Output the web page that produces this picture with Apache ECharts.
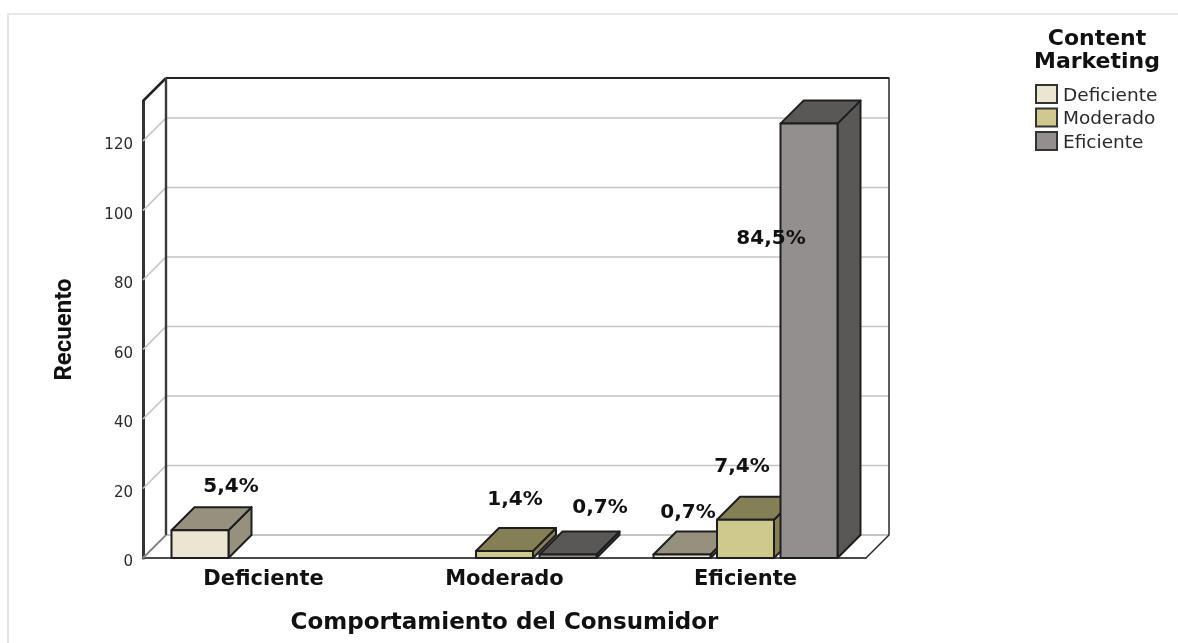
<!DOCTYPE html>
<html>
<head>
<meta charset="utf-8">
<title>Comportamiento del Consumidor</title>
<style>html,body{margin:0;padding:0;background:#fff}#chart{width:1178px;height:643px}</style>
<script src="https://cdn.jsdelivr.net/npm/echarts@6/dist/echarts.min.js"></script>
</head>
<body>
<div id="chart"></div>
<script>
// Counts per consumer-behaviour level, one list per content-marketing level
const categories = ['Deficiente', 'Moderado', 'Eficiente'];
const deficienteCounts = [8, 0, 1];
const moderadoCounts = [0, 2, 11];
const eficienteCounts = [0, 1, 125];
const deficientePct = ['5,4%', '', '0,7%'];
const moderadoPct = ['', '1,4%', '7,4%'];
const eficientePct = ['', '0,7%', '84,5%'];
const yTicks = [0, 20, 40, 60, 80, 100, 120];

const FONT = '"DejaVu Sans", sans-serif';
const DEPTH = 23;        // oblique offset of the back wall, px
const EDGE = '#1e1e1e';
const BAR_RATIO = 0.2365;
const PITCH_RATIO = 0.2635;

// Face colours and per-category label nudges (px from bar centre / front top)
const looks = [
  { name: 'Deficiente', front: '#ebe6d1', shade: '#96917f', counts: deficienteCounts, pct: deficientePct,
    nudge: [[31, -43], null, [6, -41.5]] },
  { name: 'Moderado', front: '#cfc98d', shade: '#857f56', counts: moderadoCounts, pct: moderadoPct,
    nudge: [null, [10.5, -51], [-3.5, -53]] },
  { name: 'Eficiente', front: '#938f8e', shade: '#5a5856', counts: eficienteCounts, pct: eficientePct,
    nudge: [null, [32, -46.5], [-38, 115]] }
];

function poly(points, fill, z2) {
  return { type: 'polygon', z2: z2, shape: { points: points },
    style: { fill: fill, stroke: EDGE, lineWidth: 2, lineJoin: 'round' } };
}

function barSeries(look, index) {
  return {
    type: 'custom',
    name: look.name,
    coordinateSystem: 'cartesian2d',
    itemStyle: { color: look.front, borderColor: '#333', borderWidth: 1.5 },
    data: look.counts.map((v, i) => [i, v]),
    z: 3 + index,
    renderItem(params, api) {
      const cat = api.value(0), val = api.value(1);
      if (!val) return null;
      const band = api.size([1, 0])[0];
      const top = api.coord([cat, val]);
      const base = api.coord([cat, 0]);
      const cx = top[0] + (index - 1) * band * PITCH_RATIO;
      const hw = band * BAR_RATIO / 2;
      const l = cx - hw, r = cx + hw, t = top[1], b = base[1];
      const nudge = look.nudge[cat] || [0, -40];
      return {
        type: 'group',
        children: [
          poly([[r, t], [r + DEPTH, t - DEPTH], [r + DEPTH, b - DEPTH], [r, b]], look.shade, 1),
          poly([[l, t], [l + DEPTH, t - DEPTH], [r + DEPTH, t - DEPTH], [r, t]], look.shade, 1),
          poly([[l, t], [r, t], [r, b], [l, b]], look.front, 2),
          { type: 'text', z2: 200, silent: true,
            x: cx + nudge[0], y: t + nudge[1],
            style: { text: look.pct[cat], font: 'bold 20px ' + FONT, fill: '#111',
              align: 'center', verticalAlign: 'middle' } }
        ]
      };
    }
  };
}

// Back wall gridlines with their slanted stubs on the left side wall
const gridSeries = {
  type: 'custom',
  coordinateSystem: 'cartesian2d',
  silent: true,
  z: 1,
  data: yTicks.map(v => [0, v]),
  renderItem(params, api) {
    const sys = params.coordSys;
    const y = api.coord([0, api.value(1)])[1];
    return {
      type: 'polyline',
      shape: { points: [[sys.x, y], [sys.x + DEPTH, y - DEPTH], [sys.x + sys.width + DEPTH, y - DEPTH]] },
      style: { fill: null, stroke: '#c4c4c4', lineWidth: api.value(1) === 0 ? 2.2 : 1.6 }
    };
  }
};

// Box outline: top edge, back verticals and floor corner
const frameSeries = {
  type: 'custom',
  coordinateSystem: 'cartesian2d',
  silent: true,
  z: 2,
  data: [[0, 0]],
  renderItem(params) {
    const s = params.coordSys;
    const x0 = s.x, x1 = s.x + s.width, yT = s.y, yB = s.y + s.height;
    const line = (pts, stroke, w) => ({ type: 'polyline', shape: { points: pts },
      style: { fill: null, stroke: stroke, lineWidth: w, lineJoin: 'round' } });
    return {
      type: 'group',
      children: [
        line([[x0 + DEPTH, yT - DEPTH], [x1 + DEPTH, yT - DEPTH], [x1 + DEPTH, yB - DEPTH], [x1, yB]], '#2a2a2a', 1.5),
        line([[x0, yT], [x0 + DEPTH, yT - DEPTH]], '#222', 2.5),
        line([[x0 + DEPTH, yT - DEPTH], [x1 + DEPTH, yT - DEPTH]], '#222', 2),
        line([[x0 + DEPTH, yT - DEPTH], [x0 + DEPTH, yB - DEPTH]], '#3a3a3a', 2.4),
        line([[x0, yB], [x0 + DEPTH, yB - DEPTH]], '#777', 1.5)
      ]
    };
  }
};

const chart = echarts.init(document.getElementById('chart'), null, { renderer: 'canvas' });
chart.setOption({
  animation: false,
  backgroundColor: '#fff',
  textStyle: { fontFamily: FONT },
  grid: { left: 143, right: 312, top: 101, bottom: 85, containLabel: false, outerBoundsMode: 'none' },
  title: {
    text: 'Content\nMarketing',
    left: 1097, top: 28, padding: 0, textAlign: 'center',
    textStyle: { fontFamily: FONT, fontWeight: 'bold', fontSize: 22, lineHeight: 23, color: '#111' }
  },
  legend: {
    orient: 'vertical', left: 1035, top: 84, padding: 0,
    itemWidth: 21, itemHeight: 18, itemGap: 2,
    icon: 'rect', selectedMode: false,
    align: 'left',
    formatter: name => '{t|' + name + '}',
    textStyle: {
      fontFamily: FONT, fontSize: 18.5, color: '#2a2a2a',
      rich: { t: { fontFamily: FONT, fontSize: 18.5, color: '#2a2a2a', padding: [4, 0, 0, 1] } }
    },
    data: looks.map(l => l.name)
  },
  xAxis: {
    type: 'category',
    data: categories,
    name: 'Comportamiento del Consumidor',
    nameLocation: 'middle',
    nameGap: 54,
    nameTextStyle: { fontFamily: FONT, fontWeight: 'bold', fontSize: 23, color: '#111' },
    axisLine: { lineStyle: { color: '#111', width: 1.5 } },
    axisTick: { show: false },
    axisLabel: { margin: 11, fontFamily: FONT, fontWeight: 'bold', fontSize: 21, color: '#111' },
    splitLine: { show: false }
  },
  yAxis: {
    type: 'value',
    min: 0, max: 131.5, interval: 20,
    name: 'Recuento',
    nameLocation: 'middle',
    nameGap: 66,
    nameTextStyle: { fontFamily: 'Roboto', fontWeight: 'bold', fontSize: 24, color: '#111' },
    axisLine: { show: true, lineStyle: { color: '#333', width: 3 } },
    axisTick: { show: false },
    axisLabel: { margin: 10, showMaxLabel: false, fontFamily: FONT, fontSize: 15, color: '#2a2a2a',
      verticalAlign: 'top', lineHeight: 9 },
    splitLine: { show: false }
  },
  graphic: [{
    type: 'polyline', silent: true,
    shape: { points: [[8, 643], [8, 14], [1178, 14]] },
    style: { fill: null, stroke: '#e6e6e6', lineWidth: 2 }
  }],
  series: [gridSeries, frameSeries].concat(looks.map(barSeries))
});
</script>
</body>
</html>
